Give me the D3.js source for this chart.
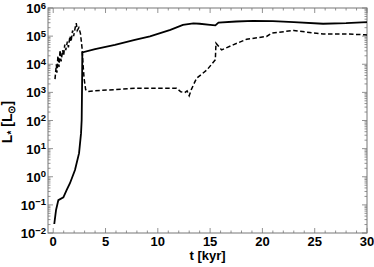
<!DOCTYPE html>
<html>
<head>
<meta charset="utf-8">
<script src="https://cdn.jsdelivr.net/npm/d3@7"></script>
<style>
  body { margin: 0; background: #fff; }
  text { font-family: "Liberation Sans", Arial, sans-serif; font-weight: bold; }
</style>
</head>
<body>
<script>
// solid curve: t [kyr], log10 L
var solidT = [0.1, 0.27, 0.49, 0.97, 1.29, 1.6, 2.08, 2.47, 2.66, 2.72, 2.76, 2.78,
  4.0, 5.9, 7.8, 9.25, 11.2, 12.4, 13.4, 14.0, 15.0, 15.5, 15.8, 17.5, 19.1, 21.0, 23.0, 25.8, 28.0, 30.0];
var solidLog = [-1.68, -1.18, -0.83, -0.73, -0.47, -0.23, 0.24, 0.84, 1.55, 2.02, 3.3, 4.42,
  4.54, 4.69, 4.87, 4.99, 5.22, 5.40, 5.45, 5.44, 5.40, 5.38, 5.48, 5.52, 5.54, 5.53, 5.50, 5.44, 5.46, 5.50];

// dashed curve
var dashT = [0.17, 0.3, 0.35, 0.45, 0.55, 0.65, 0.75, 0.9, 1.0, 1.1, 1.2, 1.35, 1.45, 1.6, 1.7, 1.85, 1.95,
  2.1, 2.2, 2.3, 2.45, 2.6, 2.75, 2.85, 2.95, 3.1, 3.3, 4.0, 6.0, 8.0, 10.0, 11.8, 12.2, 12.6, 12.8, 13.0, 13.2,
  13.7, 14.7, 15.5, 15.56, 16.1, 17.2, 18.5, 20.4, 20.9, 23.0, 24.5, 25.8, 27.7, 29.8, 30.0];
var dashLog = [3.47, 4.0, 3.7, 4.3, 3.9, 4.5, 4.1, 4.5, 4.3, 4.7, 4.5, 4.8, 4.6, 5.0, 4.8, 5.2, 5.0,
  5.3, 5.46, 5.2, 5.3, 5.1, 4.6, 4.0, 3.5, 3.1, 3.03, 3.06, 3.1, 3.15, 3.15, 3.15, 3.02, 3.0, 3.05, 2.88, 3.1,
  3.5, 3.8, 4.16, 4.75, 4.51, 4.69, 4.89, 4.99, 5.11, 5.2, 5.13, 5.08, 5.08, 5.05, 5.04];

var xTicks = [0, 5, 10, 15, 20, 25, 30];
var yTickExp = [-2, -1, 0, 1, 2, 3, 4, 5, 6];

var W = 374, H = 267;
var m = {left: 48, right: 7, top: 8, bottom: 34};

var svg = d3.select("body").append("svg")
    .attr("width", W)
    .attr("height", H);

var x = d3.scaleLinear().domain([-0.5, 30]).range([m.left, W - m.right]);
var y = d3.scaleLog().domain([1e-2, 1e6]).range([H - m.bottom, m.top]);

var x0 = m.left, x1 = W - m.right, y0 = H - m.bottom, y1 = m.top;

// frame
svg.append("rect")
    .attr("x", x0).attr("y", y1)
    .attr("width", x1 - x0).attr("height", y0 - y1)
    .attr("fill", "none").attr("stroke", "#777").attr("stroke-width", 1);

var ticks = svg.append("g").attr("stroke", "#777").attr("stroke-width", 0.8);

// x ticks, inside, bottom and top
var xMinor = d3.range(0, 30.01, 1);
xMinor.forEach(function(v) {
  var major = v % 5 === 0, len = major ? 5 : 2.5;
  ticks.append("line").attr("x1", x(v)).attr("x2", x(v)).attr("y1", y0).attr("y2", y0 - len);
  ticks.append("line").attr("x1", x(v)).attr("x2", x(v)).attr("y1", y1).attr("y2", y1 + len);
});

// y ticks, log minors, left and right
yTickExp.forEach(function(e) {
  for (var k = 1; k < 10; k++) {
    var v = k * Math.pow(10, e);
    if (v > 1e6) break;
    var len = k === 1 ? 5 : 2.5;
    ticks.append("line").attr("x1", x0).attr("x2", x0 + len).attr("y1", y(v)).attr("y2", y(v));
    ticks.append("line").attr("x1", x1).attr("x2", x1 - len).attr("y1", y(v)).attr("y2", y(v));
  }
});

// x labels
svg.append("g").selectAll("text")
  .data(xTicks)
  .enter().append("text")
    .attr("x", function(d) { return x(d); })
    .attr("y", y0 + 13)
    .attr("text-anchor", "middle")
    .attr("font-size", 13)
    .text(function(d) { return d; });

// y labels 10^n
var yl = svg.append("g").selectAll("text")
  .data(yTickExp)
  .enter().append("text")
    .attr("x", x0 - 2)
    .attr("y", function(d) { return y(Math.pow(10, d)) + 5; })
    .attr("text-anchor", "end")
    .attr("font-size", 13);
yl.append("tspan").text("10");
yl.append("tspan")
    .attr("dy", -4.5)
    .attr("font-size", 9.5)
    .text(function(d) { return d < 0 ? "\u2212" + (-d) : d; });

// axis titles
svg.append("text")
    .attr("x", (x0 + x1) / 2)
    .attr("y", H - 7)
    .attr("text-anchor", "middle")
    .attr("font-size", 13)
    .text("t [kyr]");

var yt = svg.append("text")
    .attr("transform", "translate(12," + 122 + ") rotate(-90)")
    .attr("text-anchor", "middle")
    .attr("font-size", 14);
yt.append("tspan").text("L");
yt.append("tspan").attr("dy", 3).attr("font-size", 10).text("*");
yt.append("tspan").attr("dy", -3).text(" [L");
yt.append("tspan").attr("dy", 3).attr("font-size", 10).text("\u2299");
yt.append("tspan").attr("dy", -3).text("]");

var line = d3.line()
    .x(function(d) { return x(d[0]); })
    .y(function(d) { return y(Math.pow(10, d[1])); });

svg.append("clipPath").attr("id", "c")
  .append("rect").attr("x", x0).attr("y", y1).attr("width", x1 - x0).attr("height", y0 - y1);

svg.append("path")
    .datum(d3.zip(solidT, solidLog))
    .attr("clip-path", "url(#c)")
    .attr("fill", "none")
    .attr("stroke", "#000")
    .attr("stroke-width", 1.8)
    .attr("d", line);

svg.append("path")
    .datum(d3.zip(dashT, dashLog))
    .attr("clip-path", "url(#c)")
    .attr("fill", "none")
    .attr("stroke", "#000")
    .attr("stroke-width", 1.5)
    .attr("stroke-dasharray", "4.5,2.5")
    .attr("d", line);
</script>
</body>
</html>
